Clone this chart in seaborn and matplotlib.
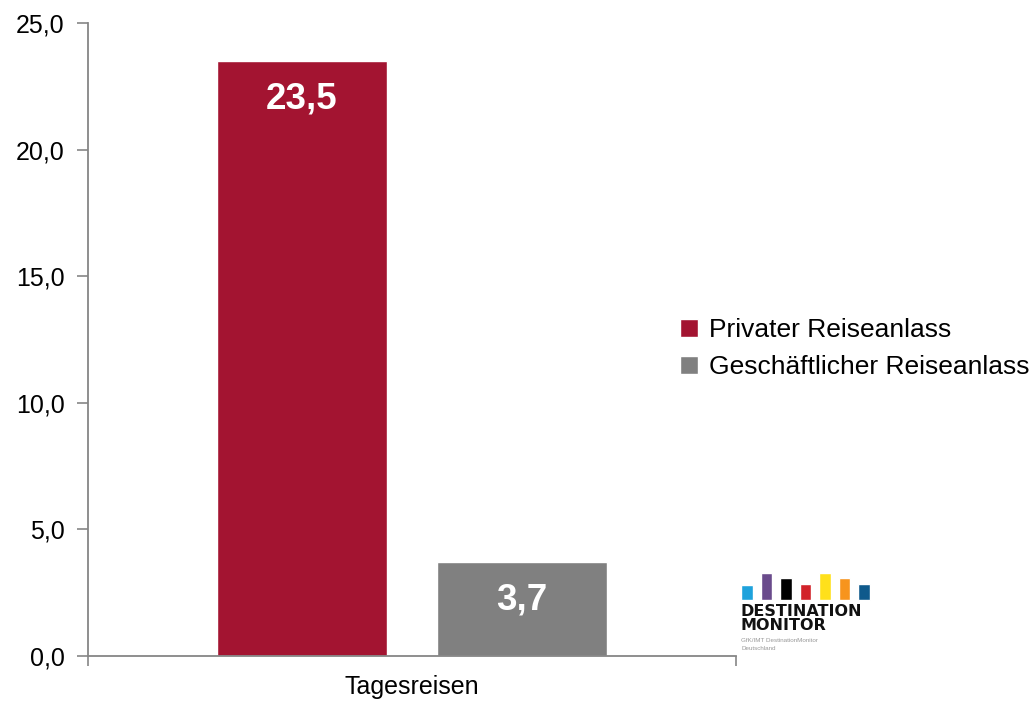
import matplotlib
matplotlib.use("Agg")
import matplotlib.pyplot as plt
import seaborn as sns
import pandas as pd

# Reiseanlass der Tagesreisen (Anteile in %)
categories = ["Tagesreisen"]
series_names = ["Privater Reiseanlass", "Geschäftlicher Reiseanlass"]
series_values = [[23.5], [3.7]]
series_colors = ["#A31431", "#808080"]
y_ticks = [0, 5, 10, 15, 20, 25]

# logo bar heights
logo_heights = [15, 27, 22, 16, 27, 22, 16]
logo_colors = ["#1EA2DC", "#6A4B8C", "#000000", "#D2232A", "#FFE01B", "#F7941D", "#0F5A8C"]

rows = []
for name, vals in zip(series_names, series_values):
    for cat, v in zip(categories, vals):
        rows.append({"Kategorie": cat, "Anlass": name, "Wert": v})
df = pd.DataFrame(rows)

sns.set_theme(style="white")
plt.rcParams["font.family"] = ["Liberation Sans", "DejaVu Sans"]
plt.rcParams["text.color"] = "black"

fig = plt.figure(figsize=(10.32, 7.01), dpi=100)
ax = fig.add_axes([88 / 1032, 1 - 656 / 701, (736 - 88) / 1032, (656 - 23) / 701])

sns.barplot(data=df, x="Kategorie", y="Wert", hue="Anlass", hue_order=series_names,
            palette=series_colors, width=0.68, gap=0.227, saturation=1,
            ax=ax, legend=True)

ax.set_ylim(0, 25)
ax.set_xlim(-0.5, 0.5)
ax.set_yticks(y_ticks)
ax.set_yticklabels([f"{t:.1f}".replace(".", ",") for t in y_ticks], fontsize=18)
ax.set_xlabel("")
ax.set_ylabel("")
ax.tick_params(axis="x", which="major", bottom=True, length=0, labelsize=18, pad=14,
               labelcolor="black")
ax.set_xticks([-0.5, 0.5], minor=True)
ax.tick_params(axis="x", which="minor", bottom=True, length=7, width=1.2,
               color="#868686", direction="out")
ax.tick_params(axis="y", left=True, length=8, width=1.2, color="#868686",
               direction="out", pad=9, labelcolor="black")

for side in ["top", "right"]:
    ax.spines[side].set_visible(False)
for side in ["left", "bottom"]:
    ax.spines[side].set_color("#868686")
    ax.spines[side].set_linewidth(1.3)

# value labels inside the bars
for cont in ax.containers:
    ax.bar_label(cont, labels=[f"{v:.1f}".replace(".", ",") for v in cont.datavalues],
                 label_type="edge", padding=-40, color="white",
                 fontsize=26.5, fontweight="bold")

leg = ax.legend(loc="upper left", bbox_to_anchor=(680 / 1032, 1 - 318 / 701),
                bbox_transform=fig.transFigure, frameon=False, fontsize=19,
                handlelength=0.7, handleheight=0.7, handletextpad=0.4,
                labelspacing=0.5, borderpad=0, borderaxespad=0)
for t in leg.get_texts():
    t.set_color("black")

# DestinationMonitor logo
lx0, ly0, lw, lh = 739, 566, 140, 90
lax = fig.add_axes([lx0 / 1032, 1 - (ly0 + lh) / 701, lw / 1032, lh / 701])
lax.set_xlim(0, lw)
lax.set_ylim(lh, 0)
lax.axis("off")
bar_x = [2 + i * 19.5 for i in range(len(logo_heights))]
lax.bar(bar_x, [-h for h in logo_heights], bottom=34, width=11.5, align="edge",
        color=logo_colors)
lax.text(1, 45, "DESTINATION", fontsize=11.5, fontweight="heavy",
         family="DejaVu Sans", va="center", ha="left", color="#111111")
lax.text(1, 60, "MONITOR", fontsize=11.5, fontweight="heavy",
         family="DejaVu Sans", va="center", ha="left", color="#111111")
lax.text(2, 74, "GfK/IMT DestinationMonitor", fontsize=4.5, va="center",
         ha="left", color="#999999")
lax.text(2, 83, "Deutschland", fontsize=4.5, va="center", ha="left", color="#999999")

fig.savefig("out.png", dpi=100)
